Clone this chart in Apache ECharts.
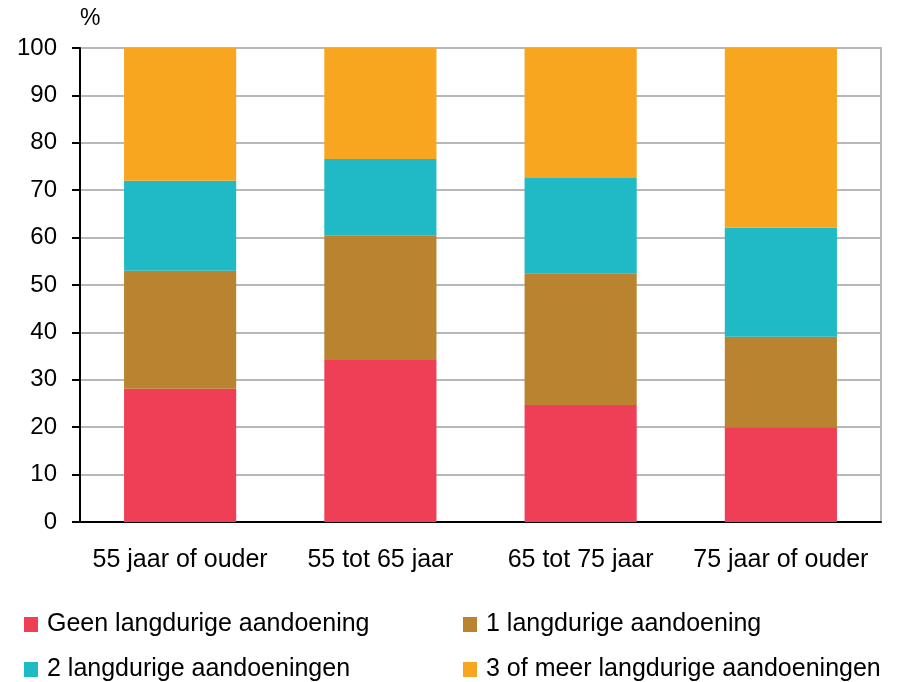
<!DOCTYPE html>
<html>
<head>
<meta charset="utf-8">
<script src="https://cdn.jsdelivr.net/npm/echarts@6/dist/echarts.min.js"></script>
<style>
  html, body { margin: 0; padding: 0; background: #fff; }
  #chart { width: 899px; height: 682px; }
</style>
</head>
<body>
<div id="chart"></div>
<script>
const categories = ["55 jaar of ouder", "55 tot 65 jaar", "65 tot 75 jaar", "75 jaar of ouder"];
const seriesNames = [
    "Geen langdurige aandoening",
    "1 langdurige aandoening",
    "2 langdurige aandoeningen",
    "3 of meer langdurige aandoeningen"
];
const geen = [28.1, 34.2, 24.7, 20.0];
const een = [24.9, 26.3, 27.8, 19.1];
const twee = [19.0, 16.1, 20.1, 23.0];
const drieOfMeer = [28.0, 23.4, 27.4, 37.9];
const colors = ["#ef3f56", "#b9832f", "#1fbac5", "#f8a620"];

const font = "Liberation Sans, Arial, sans-serif";
const chart = echarts.init(document.getElementById("chart"), null, { renderer: "canvas" });

const values = [geen, een, twee, drieOfMeer];

// legend placement: two columns, two rows (legend has 5px padding)
const legendPos = [[19, 607], [458, 607], [19, 652], [458, 652]];

chart.setOption({
    animation: false,
    grid: {
        left: 80,
        right: 18,
        top: 48,
        bottom: 160,
        show: true,
        borderColor: "#b8b8b8",
        borderWidth: 2
    },
    legend: seriesNames.map((name, i) => ({
        left: legendPos[i][0],
        top: legendPos[i][1],
        itemWidth: 14,
        itemHeight: 15,
        icon: "rect",
        data: [name],
        textStyle: {
            fontFamily: font,
            fontSize: 25,
            color: "#000",
            lineHeight: 15,
            padding: [0, 0, 0, 4]
        }
    })),
    xAxis: {
        type: "category",
        data: categories,
        axisLine: { lineStyle: { color: "#000", width: 2 } },
        axisTick: { show: false },
        axisLabel: {
            interval: 0,
            margin: 26,
            fontFamily: font,
            fontSize: 25,
            color: "#000"
        }
    },
    yAxis: {
        type: "value",
        min: 0,
        max: 100,
        interval: 10,
        name: "%",
        nameLocation: "end",
        nameGap: 18,
        nameTextStyle: {
            fontFamily: font,
            fontSize: 23,
            color: "#000",
            align: "left"
        },
        axisLine: { show: true, lineStyle: { color: "#000", width: 2 } },
        axisTick: { show: true, length: 8, lineStyle: { color: "#000", width: 2 } },
        axisLabel: {
            margin: 23,
            fontFamily: font,
            fontSize: 24,
            color: "#000"
        },
        splitLine: { lineStyle: { color: "#b8b8b8", width: 2 } }
    },
    series: seriesNames.map((name, i) => ({
        name: name,
        type: "bar",
        stack: "totaal",
        barWidth: "56%",
        data: values[i],
        itemStyle: { color: colors[i] }
    }))
});
</script>
</body>
</html>
